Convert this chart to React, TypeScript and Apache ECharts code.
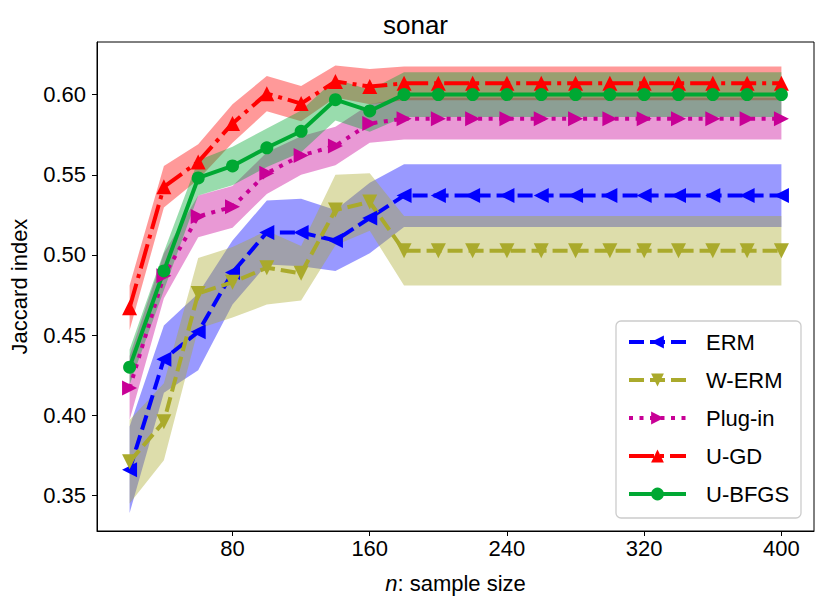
import React, { useEffect, useRef } from "react";
import * as echarts from "echarts";

const sampleSizes = [20, 40, 60, 80, 100, 120, 140, 160, 180, 200, 220, 240, 260, 280, 300, 320, 340, 360, 380, 400];
const xTicks = [80, 160, 240, 320, 400];
const yTicks = [0.35, 0.4, 0.45, 0.5, 0.55, 0.6];

const ermMean = [0.366, 0.435, 0.452, 0.489, 0.514, 0.514, 0.509, 0.523, 0.537, 0.537, 0.537, 0.537, 0.537, 0.537, 0.537, 0.537, 0.537, 0.537, 0.537, 0.537];
const ermStd = [0.027, 0.021, 0.024, 0.02, 0.02, 0.021, 0.019, 0.022, 0.0196, 0.0196, 0.0196, 0.0196, 0.0196, 0.0196, 0.0196, 0.0196, 0.0196, 0.0196, 0.0196, 0.0196];

const wermMean = [0.371, 0.396, 0.476, 0.483, 0.492, 0.4885, 0.528, 0.533, 0.5026, 0.5026, 0.5026, 0.5026, 0.5026, 0.5026, 0.5026, 0.5026, 0.5026, 0.5026, 0.5026, 0.5026];
const wermStd = [0.026, 0.024, 0.022, 0.022, 0.023, 0.017, 0.022, 0.018, 0.0216, 0.0216, 0.0216, 0.0216, 0.0216, 0.0216, 0.0216, 0.0216, 0.0216, 0.0216, 0.0216, 0.0216];

const plugMean = [0.417, 0.487, 0.524, 0.53, 0.551, 0.562, 0.568, 0.582, 0.585, 0.585, 0.585, 0.585, 0.585, 0.585, 0.585, 0.585, 0.585, 0.585, 0.585, 0.585];
const plugStd = [0.02, 0.014, 0.013, 0.013, 0.013, 0.012, 0.012, 0.012, 0.013, 0.013, 0.013, 0.013, 0.013, 0.013, 0.013, 0.013, 0.013, 0.013, 0.013, 0.013];

const ugdMean = [0.467, 0.5425, 0.558, 0.582, 0.6006, 0.5944, 0.6082, 0.605, 0.607, 0.607, 0.607, 0.607, 0.607, 0.607, 0.607, 0.607, 0.607, 0.607, 0.607, 0.607];
const ugdStd = [0.014, 0.013, 0.011, 0.012, 0.011, 0.011, 0.01, 0.011, 0.0105, 0.0105, 0.0105, 0.0105, 0.0105, 0.0105, 0.0105, 0.0105, 0.0105, 0.0105, 0.0105, 0.0105];

const ubfgsMean = [0.43, 0.49, 0.548, 0.5555, 0.5668, 0.5771, 0.5968, 0.5898, 0.6, 0.6, 0.6, 0.6, 0.6, 0.6, 0.6, 0.6, 0.6, 0.6, 0.6, 0.6];
const ubfgsStd = [0.011, 0.012, 0.011, 0.012, 0.012, 0.013, 0.013, 0.013, 0.014, 0.014, 0.014, 0.014, 0.014, 0.014, 0.014, 0.014, 0.014, 0.014, 0.014, 0.014];

const FONT = "Liberation Sans";
const FS = 22;

type Method = {
  name: string;
  mean: number[];
  std: number[];
  color: string;
  dash: number[] | "solid";
  symbol: string;
  rotate: number;
  size: number;
};

const methods: Method[] = [
  { name: "ERM", mean: ermMean, std: ermStd, color: "#0000ff", dash: [15, 6], symbol: "triangle", rotate: 90, size: 15 },
  { name: "W-ERM", mean: wermMean, std: wermStd, color: "#aaaa2c", dash: [15, 6], symbol: "triangle", rotate: 180, size: 15 },
  { name: "Plug-in", mean: plugMean, std: plugStd, color: "#c80096", dash: [4, 6.5], symbol: "triangle", rotate: -90, size: 15 },
  { name: "U-GD", mean: ugdMean, std: ugdStd, color: "#ff0000", dash: [25, 6, 4, 6], symbol: "triangle", rotate: 0, size: 15 },
  { name: "U-BFGS", mean: ubfgsMean, std: ubfgsStd, color: "#00a833", dash: "solid", symbol: "circle", rotate: 0, size: 13 },
];

export default function App() {
  const ref = useRef<HTMLDivElement>(null);
  useEffect(() => {
    if (!ref.current) return;
    const chart = echarts.init(ref.current, undefined, { renderer: "svg" });

    const bandSeries = methods.map((m) => ({
      type: "custom",
      name: m.name + " band",
      z: 1,
      silent: true,
      data: [[sampleSizes[0], m.mean[0]]],
      renderItem: (params: any, api: any) => {
        const upper = sampleSizes.map((x, i) => api.coord([x, m.mean[i] + m.std[i]]));
        const lower = sampleSizes.map((x, i) => api.coord([x, m.mean[i] - m.std[i]])).reverse();
        return {
          type: "polygon",
          shape: { points: upper.concat(lower) },
          style: { fill: m.color, opacity: 0.4 },
        };
      },
    }));

    const lineSeries = methods.map((m) => ({
      type: "line",
      name: m.name,
      z: 2,
      data: sampleSizes.map((x, i) => [x, m.mean[i]]),
      symbol: m.symbol,
      symbolRotate: m.rotate,
      symbolSize: m.size,
      showAllSymbol: true,
      lineStyle: { color: m.color, width: 4, type: m.dash },
      itemStyle: { color: m.color },
    }));

    chart.setOption({
      animation: false,
      backgroundColor: "#fff",
      title: {
        text: "sonar",
        left: "center",
        top: 7,
        textStyle: { fontSize: 26, fontWeight: "normal", color: "#000", fontFamily: FONT },
      },
      grid: { left: 96, top: 42, right: 17, bottom: 76, show: true, borderColor: "#000", borderWidth: 1 },
      xAxis: {
        type: "value",
        min: 1,
        max: 419,
        name: "{i|n}: sample size",
        nameLocation: "middle",
        nameGap: 41,
        nameTextStyle: {
          fontSize: FS,
          color: "#000",
          fontFamily: FONT,
          rich: { i: { fontStyle: "italic", fontSize: FS, fontFamily: FONT, color: "#000" } },
        },
        axisLine: { show: true, lineStyle: { color: "#000", width: 1 } },
        axisTick: { show: true, customValues: xTicks, length: 5, lineStyle: { color: "#000" } },
        axisLabel: { customValues: xTicks, fontSize: FS, color: "#000", fontFamily: FONT, margin: 6 },
        splitLine: { show: false },
      },
      yAxis: {
        type: "value",
        min: 0.3278,
        max: 0.6328,
        name: "Jaccard index",
        nameLocation: "middle",
        nameGap: 67,
        nameTextStyle: { fontSize: FS, color: "#000", fontFamily: FONT },
        axisLine: { show: true, lineStyle: { color: "#000", width: 1 } },
        axisTick: { show: true, customValues: yTicks, length: 5, lineStyle: { color: "#000" } },
        axisLabel: {
          customValues: yTicks,
          fontSize: FS,
          color: "#000",
          fontFamily: FONT,
          margin: 11,
          formatter: (v: number) => v.toFixed(2),
        },
        splitLine: { show: false },
      },
      legend: {
        data: methods.map((m) => m.name),
        orient: "vertical",
        left: 627,
        top: 331,
        padding: 0,
        itemWidth: 57,
        itemHeight: 16,
        itemGap: 16,
        lineStyle: { width: 4 },
        textStyle: { fontSize: FS, color: "#000", fontFamily: FONT, padding: [0, 0, 0, 15] },
      },
      graphic: [
        {
          type: "rect",
          z: 3,
          shape: { x: 616, y: 321, width: 185, height: 197, r: 5 },
          style: { fill: "rgba(255,255,255,0.85)", stroke: "#cccccc", lineWidth: 1.3 },
        },
      ],
      series: [...bandSeries, ...lineSeries],
    });
    return () => chart.dispose();
  }, []);
  return <div ref={ref} style={{ position: "fixed", left: 0, top: 0, width: 831, height: 607 }} />;
}
